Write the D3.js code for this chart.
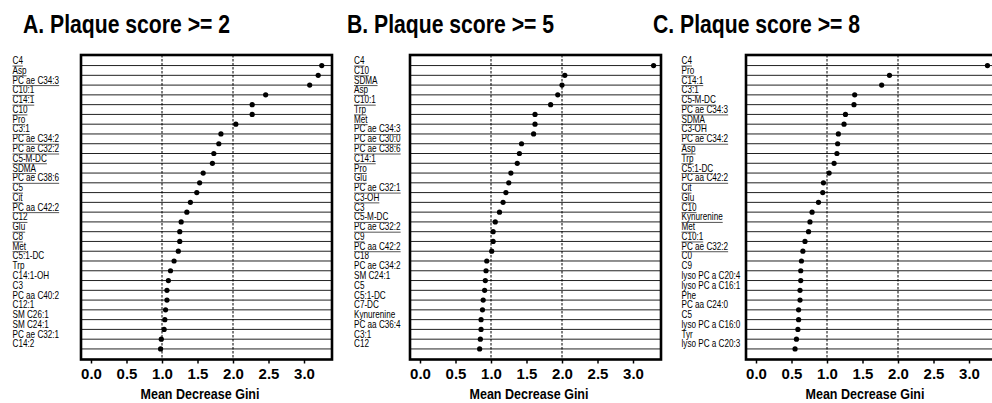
<!DOCTYPE html>
<html>
<head>
<meta charset="utf-8">
<script src="https://cdn.jsdelivr.net/npm/d3@7"></script>
<style>
  body { margin: 0; background: #fff; }
  svg { display: block; }
  .lbl { font-family: "Liberation Sans", Arial, sans-serif; font-size: 10.2px; fill: #000; }
  .title { font-family: "Liberation Sans", Arial, sans-serif; font-weight: bold; font-size: 25px; }
  .axis text { font-family: "Liberation Sans", Arial, sans-serif; font-weight: bold; font-size: 15px; fill: #000; }
  .xtitle { font-family: "Liberation Sans", Arial, sans-serif; font-weight: bold; font-size: 15.5px; }
</style>
</head>
<body>
<div id="chart"></div>
<script>
// panel titles
const panelTitles = ["A. Plaque score >= 2", "B. Plaque score >= 5", "C. Plaque score >= 8"];

// panel A
const labelsA = ["C4", "Asp", "PC ae C34:3", "C10:1", "C14:1", "C10", "Pro", "C3:1", "PC ae C34:2",
  "PC ae C32:2", "C5-M-DC", "SDMA", "PC ae C38:6", "C5", "Cit", "PC aa C42:2", "C12", "Glu", "C8",
  "Met", "C5:1-DC", "Trp", "C14:1-OH", "C3", "PC aa C40:2", "C12:1", "SM C26:1", "SM C24:1",
  "PC ae C32:1", "C14:2"];
const valuesA = [3.25, 3.20, 3.08, 2.46, 2.27, 2.27, 2.04, 1.83, 1.80, 1.73, 1.71, 1.58, 1.53, 1.49,
  1.40, 1.35, 1.27, 1.25, 1.25, 1.23, 1.17, 1.12, 1.09, 1.07, 1.07, 1.05, 1.04, 1.03, 0.99, 0.98];

// panel B
const labelsB = ["C4", "C10", "SDMA", "Asp", "C10:1", "Trp", "Met", "PC ae C34:3", "PC ae C30:0",
  "PC ae C38:6", "C14:1", "Pro", "Glu", "PC ae C32:1", "C3-OH", "C3", "C5-M-DC", "PC ae C32:2", "C9",
  "PC aa C42:2", "C18", "PC ae C34:2", "SM C24:1", "C5", "C5:1-DC", "C7-DC", "Kynurenine",
  "PC aa C36:4", "C3:1", "C12"];
const valuesB = [3.29, 2.04, 2.00, 1.94, 1.84, 1.62, 1.62, 1.60, 1.43, 1.40, 1.37, 1.28, 1.25, 1.21,
  1.17, 1.12, 1.06, 1.03, 1.03, 1.01, 0.94, 0.93, 0.92, 0.91, 0.89, 0.88, 0.86, 0.86, 0.85, 0.84];

// panel C
const labelsC = ["C4", "Pro", "C14:1", "C3:1", "C5-M-DC", "PC ae C34:3", "SDMA", "C3-OH", "PC ae C34:2",
  "Asp", "Trp", "C5:1-DC", "PC aa C42:2", "Cit", "Glu", "C10", "Kynurenine", "Met", "C10:1",
  "PC ae C32:2", "C0", "C9", "lyso PC a C20:4", "lyso PC a C16:1", "Phe", "PC aa C24:0", "C5",
  "lyso PC a C16:0", "Tyr", "lyso PC a C20:3"];
const valuesC = [3.26, 1.88, 1.77, 1.39, 1.38, 1.26, 1.24, 1.16, 1.15, 1.14, 1.10, 1.03, 0.95, 0.94,
  0.88, 0.79, 0.76, 0.74, 0.69, 0.66, 0.64, 0.63, 0.63, 0.62, 0.62, 0.60, 0.60, 0.59, 0.57, 0.55];

// how many of the top labels are underlined in each panel
const underlined = [20, 20, 20];

const xTicks = [0, 0.5, 1.0, 1.5, 2.0, 2.5, 3.0];
const refLines = [1, 2];
const xLabel = "Mean Decrease Gini";

const panelLabels = [labelsA, labelsB, labelsC];
const panelValues = [valuesA, valuesB, valuesC];

const W = 992, H = 403;
const boxTop = 55, boxBottom = 359.5, boxW = 251;
const narrow = 0.8; // horizontal squeeze for the condensed label font
const layout = [
  { left: 81, labelX: 12.5, titleX: 23 },
  { left: 410, labelX: 354, titleX: 347 },
  { left: 746, labelX: 681.5, titleX: 653 }
];

const svg = d3.select("#chart").append("svg").attr("width", W).attr("height", H);

layout.forEach((p, i) => {
  const labels = panelLabels[i], values = panelValues[i];
  const g = svg.append("g");

  const x = d3.scaleLinear()
    .domain([-10 / 71, (boxW - 10) / 71])
    .range([p.left, p.left + boxW]);
  const y = d3.scalePoint()
    .domain(labels)
    .range([boxTop, boxBottom])
    .padding(1.08);

  // title
  g.append("text").attr("class", "title")
    .attr("x", p.titleX).attr("y", 33)
    .attr("textLength", 207).attr("lengthAdjust", "spacingAndGlyphs")
    .text(panelTitles[i]);

  // row lines
  g.selectAll(".row").data(labels).join("line")
    .attr("x1", p.left).attr("x2", p.left + boxW)
    .attr("y1", d => y(d)).attr("y2", d => y(d))
    .attr("stroke", "#222").attr("stroke-width", 1);

  // dashed reference lines
  g.selectAll(".ref").data(refLines).join("line")
    .attr("x1", d => x(d)).attr("x2", d => x(d))
    .attr("y1", boxTop).attr("y2", boxBottom)
    .attr("stroke", "#000").attr("stroke-width", 1)
    .attr("stroke-dasharray", "2.5,1.5");

  // dots
  g.selectAll("circle").data(values).join("circle")
    .attr("cx", d => x(d)).attr("cy", (d, j) => y(labels[j]))
    .attr("r", 2.6).attr("fill", "#000");

  // labels (squeezed horizontally)
  const lbl = g.selectAll(".lbl").data(labels).join("text")
    .attr("class", "lbl")
    .attr("transform", d => `translate(${p.labelX},${y(d) - 1.5}) scale(${narrow},1)`)
    .text(d => d);

  lbl.each(function (d, j) {
    if (j >= underlined[i]) return;
    const w = this.getComputedTextLength() * narrow;
    g.append("line")
      .attr("x1", p.labelX).attr("x2", p.labelX + w)
      .attr("y1", y(d) + 0.5).attr("y2", y(d) + 0.5)
      .attr("stroke", "#555").attr("stroke-width", 1);
  });

  // box
  g.append("rect")
    .attr("x", p.left).attr("y", boxTop)
    .attr("width", boxW).attr("height", boxBottom - boxTop)
    .attr("fill", "none").attr("stroke", "#000").attr("stroke-width", 2.6);

  // x axis
  const ax = g.append("g").attr("class", "axis")
    .attr("transform", `translate(0,${boxBottom})`)
    .call(d3.axisBottom(x).tickValues(xTicks).tickFormat(d3.format(".1f")).tickSize(4).tickPadding(5));
  ax.select(".domain").remove();
  ax.selectAll(".tick line").attr("stroke", "#000").attr("stroke-width", 1.5);

  g.append("text").attr("class", "xtitle")
    .attr("x", p.left + 119).attr("y", 399)
    .attr("text-anchor", "middle")
    .attr("textLength", 119).attr("lengthAdjust", "spacingAndGlyphs")
    .text(xLabel);
});
</script>
</body>
</html>
